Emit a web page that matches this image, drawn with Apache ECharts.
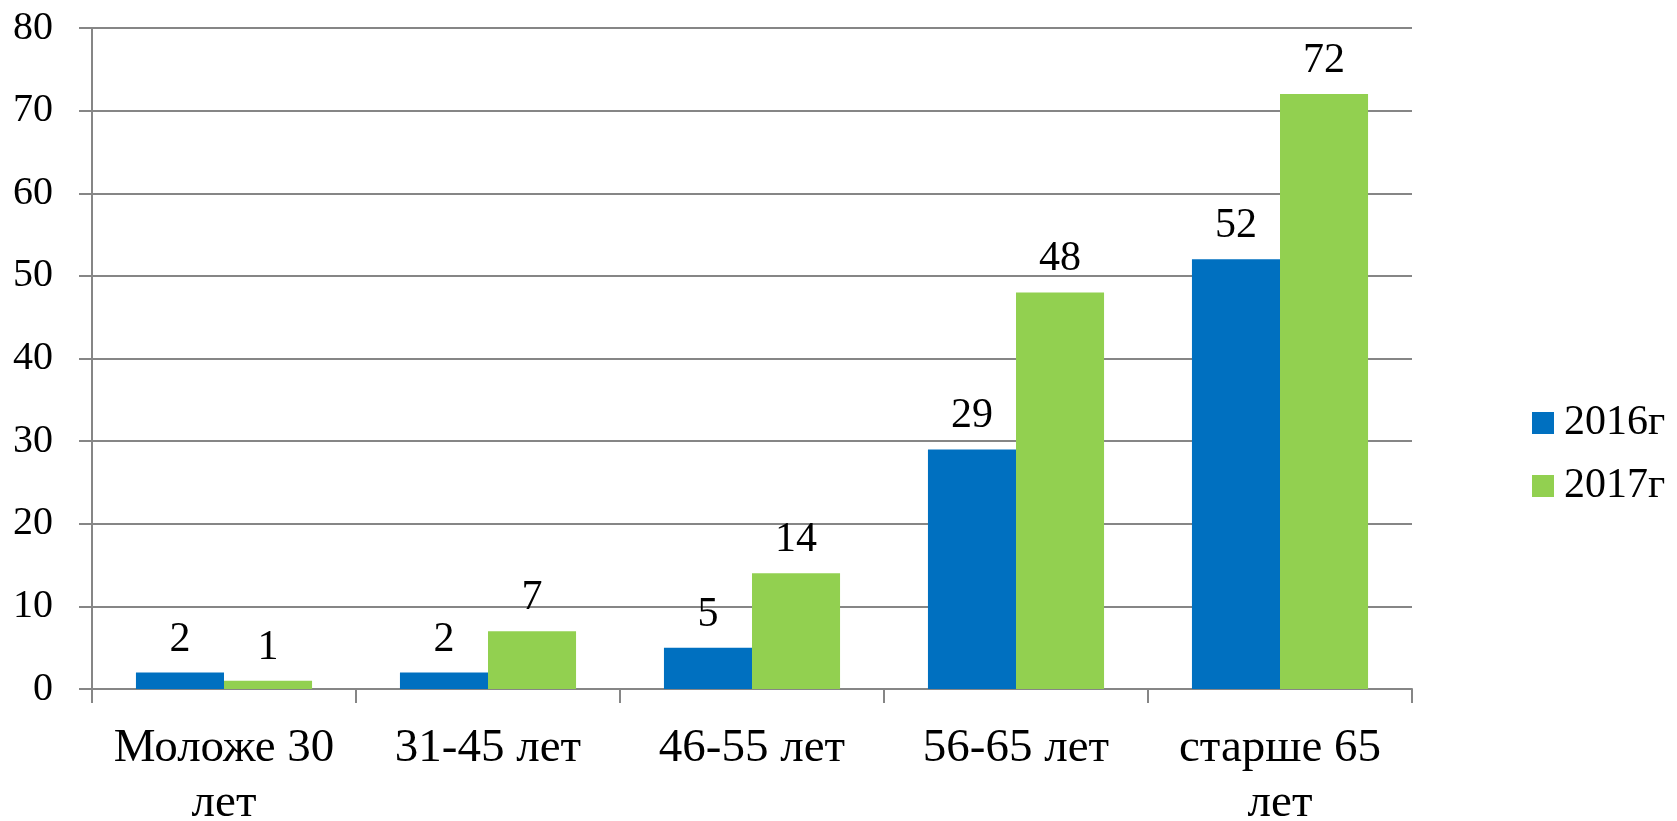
<!DOCTYPE html>
<html>
<head>
<meta charset="utf-8">
<script src="https://cdn.jsdelivr.net/npm/echarts@6/dist/echarts.min.js"></script>
<style>
  html, body { margin: 0; padding: 0; background: #fff; }
  #chart { width: 1677px; height: 821px; }
</style>
</head>
<body>
<div id="chart"></div>
<script>
// Age groups and counts per year
const categories = ['Моложе 30\nлет', '31-45 лет', '46-55 лет', '56-65 лет', 'старше 65\nлет'];
const values2016 = [2, 2, 5, 29, 52];
const values2017 = [1, 7, 14, 48, 72];
const seriesNames = ['2016г', '2017г'];
const yTicks = { min: 0, max: 80, interval: 10 };

const FONT = "'Liberation Serif', 'Times New Roman', serif";
const GRID_COLOR = '#868686';

const chart = echarts.init(document.getElementById('chart'), null, { renderer: 'canvas' });

const labelStyle = {
  show: true,
  position: 'top',
  distance: 12,
  color: '#000',
  fontFamily: FONT,
  fontSize: 42
};

chart.setOption({
  backgroundColor: '#fff',
  animation: false,
  grid: {
    left: 92, right: 265, top: 28, bottom: 132,
    containLabel: false,
    outerBoundsMode: 'none'
  },
  legend: {
    orient: 'vertical',
    left: 1527,
    top: 397,
    itemWidth: 22,
    itemHeight: 22,
    itemGap: 21,
    icon: 'rect',
    textStyle: { fontFamily: FONT, fontSize: 42, color: '#000', padding: [0, 0, 0, 5] },
    data: seriesNames
  },
  xAxis: {
    type: 'category',
    data: categories,
    axisLine: { show: true, lineStyle: { color: GRID_COLOR, width: 2 } },
    axisTick: { show: true, length: 14, lineStyle: { color: GRID_COLOR, width: 2 } },
    axisLabel: {
      color: '#000',
      fontFamily: FONT,
      fontSize: 47,
      lineHeight: 55,
      margin: 32,
      interval: 0
    }
  },
  yAxis: {
    type: 'value',
    min: yTicks.min,
    max: yTicks.max,
    interval: yTicks.interval,
    axisLine: { show: true, lineStyle: { color: GRID_COLOR, width: 2 } },
    axisTick: { show: true, length: 13, lineStyle: { color: GRID_COLOR, width: 2 } },
    splitLine: { show: true, lineStyle: { color: GRID_COLOR, width: 2 } },
    axisLabel: {
      color: '#000',
      fontFamily: FONT,
      fontSize: 40,
      margin: 39
    }
  },
  series: [
    {
      name: seriesNames[0],
      type: 'bar',
      data: values2016,
      barGap: '0%',
      barCategoryGap: '33.3%',
      itemStyle: { color: '#0070C0' },
      label: labelStyle
    },
    {
      name: seriesNames[1],
      type: 'bar',
      data: values2017,
      barGap: '0%',
      barCategoryGap: '33.3%',
      itemStyle: { color: '#92D050' },
      label: labelStyle
    }
  ]
});
</script>
</body>
</html>
